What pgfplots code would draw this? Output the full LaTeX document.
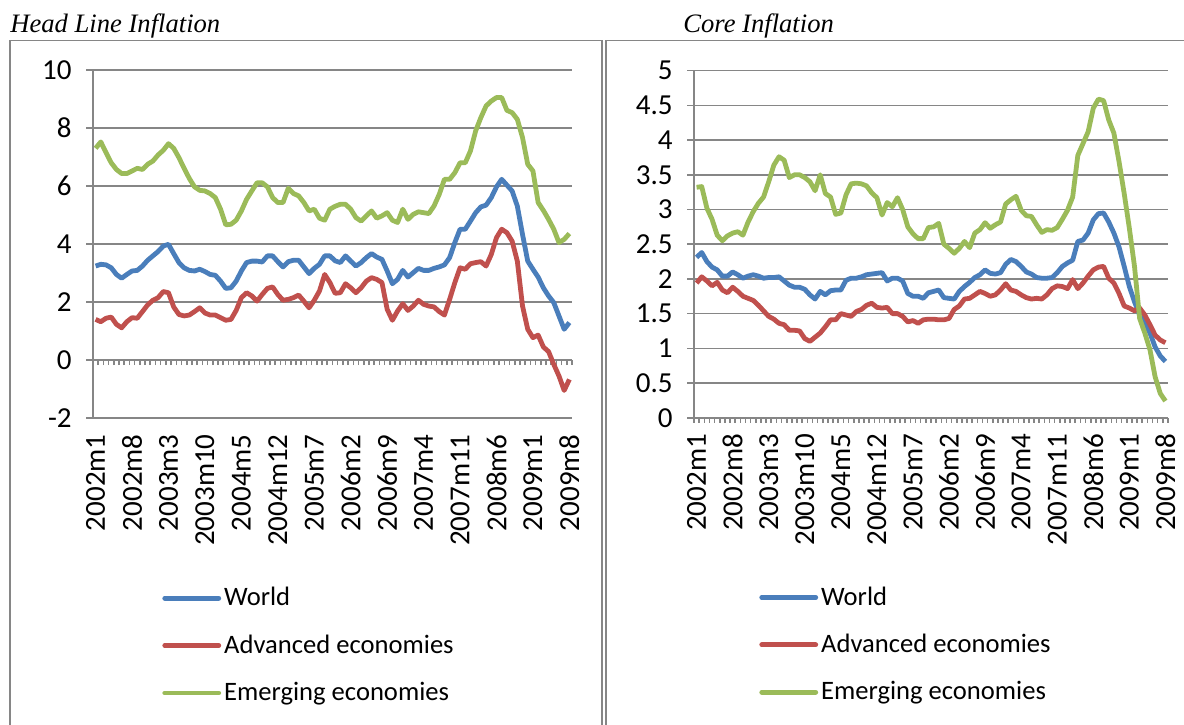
\documentclass[border=0pt]{standalone}
\usepackage{fontspec}
\setmainfont{Carlito}
\newfontfamily\titlefont{Liberation Serif}
\usepackage{pgfplots}
\usepackage{pgfplotstable}
\pgfplotsset{compat=1.18}

\definecolor{gridgray}{RGB}{134,134,134}
\definecolor{cworld}{RGB}{74,126,187}
\definecolor{cadv}{RGB}{192,80,77}
\definecolor{cemer}{RGB}{155,187,89}

% month index, world, advanced, emerging
\pgfplotstableread{
i w a e
0 3.24 1.40 7.30
1 3.30 1.32 7.52
2 3.28 1.44 7.15
3 3.18 1.48 6.80
4 2.95 1.23 6.57
5 2.82 1.11 6.43
6 2.95 1.32 6.43
7 3.07 1.46 6.52
8 3.09 1.44 6.61
9 3.24 1.67 6.57
10 3.44 1.90 6.75
11 3.59 2.06 6.86
12 3.74 2.15 7.07
13 3.93 2.36 7.23
14 3.99 2.32 7.46
15 3.67 1.83 7.30
16 3.36 1.57 6.98
17 3.18 1.52 6.61
18 3.09 1.55 6.26
19 3.07 1.67 5.97
20 3.13 1.80 5.85
21 3.05 1.62 5.83
22 2.95 1.55 5.74
23 2.92 1.55 5.60
24 2.72 1.46 5.20
25 2.47 1.37 4.66
26 2.49 1.40 4.68
27 2.72 1.71 4.82
28 3.07 2.15 5.14
29 3.36 2.32 5.54
30 3.41 2.21 5.83
31 3.41 2.03 6.11
32 3.38 2.26 6.11
33 3.59 2.47 5.97
34 3.59 2.52 5.60
35 3.39 2.26 5.43
36 3.21 2.06 5.43
37 3.39 2.09 5.92
38 3.44 2.15 5.74
39 3.44 2.24 5.66
40 3.21 2.03 5.43
41 2.98 1.80 5.14
42 3.16 2.06 5.20
43 3.30 2.38 4.89
44 3.59 2.95 4.82
45 3.59 2.67 5.20
46 3.42 2.30 5.30
47 3.36 2.32 5.37
48 3.59 2.63 5.37
49 3.41 2.49 5.20
50 3.24 2.32 4.91
51 3.36 2.49 4.79
52 3.53 2.72 4.97
53 3.67 2.84 5.14
54 3.55 2.78 4.89
55 3.47 2.67 4.97
56 3.07 1.75 5.08
57 2.63 1.37 4.82
58 2.78 1.69 4.74
59 3.09 1.94 5.20
60 2.86 1.71 4.85
61 3.01 1.86 5.02
62 3.16 2.06 5.11
63 3.09 1.92 5.08
64 3.09 1.86 5.05
65 3.16 1.83 5.31
66 3.21 1.67 5.71
67 3.28 1.55 6.23
68 3.53 2.09 6.23
69 4.05 2.67 6.46
70 4.51 3.18 6.80
71 4.51 3.13 6.80
72 4.79 3.32 7.21
73 5.08 3.36 7.90
74 5.28 3.39 8.36
75 5.34 3.24 8.76
76 5.60 3.64 8.93
77 5.97 4.22 9.05
78 6.23 4.51 9.05
79 6.03 4.39 8.61
80 5.83 4.10 8.53
81 5.31 3.41 8.30
82 4.33 1.86 7.67
83 3.41 1.06 6.75
84 3.13 0.77 6.52
85 2.86 0.86 5.43
86 2.49 0.45 5.16
87 2.21 0.29 4.85
88 1.98 -0.15 4.51
89 1.52 -0.55 4.05
90 1.06 -1.05 4.16
91 1.29 -0.67 4.36
}\headline

\pgfplotstableread{
i w a e
0 2.31 1.94 3.32
1 2.38 2.03 3.33
2 2.25 1.97 3.02
3 2.17 1.90 2.86
4 2.13 1.95 2.63
5 2.04 1.84 2.55
6 2.04 1.80 2.62
7 2.10 1.88 2.66
8 2.06 1.82 2.68
9 2.01 1.75 2.63
10 2.04 1.72 2.82
11 2.06 1.69 2.97
12 2.04 1.62 3.09
13 2.01 1.54 3.18
14 2.02 1.46 3.40
15 2.02 1.42 3.64
16 2.03 1.36 3.76
17 1.97 1.34 3.71
18 1.91 1.26 3.46
19 1.88 1.26 3.50
20 1.88 1.25 3.50
21 1.85 1.14 3.46
22 1.77 1.10 3.40
23 1.71 1.16 3.27
24 1.82 1.22 3.50
25 1.77 1.31 3.23
26 1.83 1.41 3.18
27 1.84 1.41 2.93
28 1.84 1.50 2.95
29 1.98 1.48 3.21
30 2.01 1.46 3.37
31 2.01 1.53 3.38
32 2.03 1.56 3.37
33 2.06 1.62 3.34
34 2.07 1.65 3.24
35 2.08 1.59 3.17
36 2.09 1.58 2.92
37 1.97 1.59 3.10
38 2.01 1.50 3.04
39 2.01 1.50 3.17
40 1.97 1.46 3.00
41 1.79 1.38 2.75
42 1.75 1.40 2.65
43 1.75 1.36 2.58
44 1.72 1.41 2.58
45 1.80 1.42 2.74
46 1.82 1.42 2.75
47 1.84 1.41 2.80
48 1.73 1.41 2.50
49 1.72 1.43 2.44
50 1.71 1.56 2.37
51 1.82 1.61 2.44
52 1.89 1.71 2.54
53 1.95 1.72 2.45
54 2.02 1.77 2.66
55 2.06 1.82 2.71
56 2.13 1.79 2.81
57 2.08 1.75 2.73
58 2.07 1.77 2.78
59 2.09 1.84 2.82
60 2.21 1.93 3.08
61 2.28 1.84 3.14
62 2.25 1.82 3.19
63 2.18 1.77 2.99
64 2.10 1.73 2.91
65 2.07 1.71 2.90
66 2.02 1.72 2.78
67 2.01 1.71 2.67
68 2.01 1.77 2.71
69 2.02 1.86 2.70
70 2.09 1.90 2.74
71 2.18 1.89 2.86
72 2.23 1.86 2.99
73 2.27 1.99 3.18
74 2.54 1.86 3.78
75 2.56 1.94 3.95
76 2.66 2.04 4.12
77 2.85 2.13 4.46
78 2.94 2.17 4.59
79 2.95 2.18 4.57
80 2.82 2.01 4.29
81 2.66 1.94 4.10
82 2.46 1.79 3.69
83 2.18 1.61 3.23
84 1.89 1.58 2.73
85 1.67 1.54 2.18
86 1.48 1.58 1.43
87 1.36 1.48 1.22
88 1.22 1.34 0.98
89 1.02 1.19 0.59
90 0.89 1.12 0.35
91 0.81 1.08 0.24
}\core

\pgfplotsset{
  infl/.style={
    scale only axis,
    axis x line=middle, axis y line=left,
    axis line style={-, draw=gridgray, line width=0.8pt},
    tick align=outside,
    xmin=-0.5, xmax=91.5,
    xtick={0,7,...,91},
    xticklabels={2002m1,2002m8,2003m3,2003m10,2004m5,2004m12,2005m7,2006m2,2006m9,2007m4,2007m11,2008m6,2009m1,2009m8},
    minor xtick={-0.5,0.5,...,91.5},
    major x tick style={draw=none},
    minor x tick style={draw=gridgray, line width=0.8pt},
    minor tick length=2.5pt,
    major tick length=3.5pt,
    ytick style={draw=gridgray, line width=0.8pt},
    hide obscured x ticks=false,
    ymajorgrids,
    grid style={draw=gridgray, line width=0.8pt},
    /pgf/number format/assume math mode=true,
    tick label style={font=\fontsize{14.5}{16}\selectfont, inner sep=0pt},
    yticklabel style={xshift=-7pt},
    xticklabel style={rotate=90, anchor=east},
    every axis plot/.append style={line width=2.4pt, line join=round, mark=none},
    legend cell align=left,
    legend image code/.code={\draw[##1, line cap=round] (0pt,0pt) -- (27pt,0pt);},
    legend style={draw=none, fill=none, anchor=north west, row sep=10pt,
      inner sep=0pt, font=\fontsize{13.3}{15}\selectfont,
      nodes={inner sep=1.5pt}},
  },
}

\begin{document}
\begin{tikzpicture}[x=0.5pt, y=0.5pt]
\clip (0,0) rectangle (1184,724);
\useasboundingbox (0,0) rectangle (1184,724);
\draw[gridgray, line width=0.8pt] (10,-10) rectangle (602,683.5);
\draw[gridgray, line width=0.8pt] (606,-10) rectangle (1200,683.5);
\node[anchor=base west, inner sep=0pt, font=\titlefont\itshape\fontsize{13.3}{16}\selectfont] at (10,691.5) {Head Line Inflation};
\node[anchor=base west, inner sep=0pt, font=\titlefont\itshape\fontsize{13.3}{16}\selectfont] at (683,691.5) {Core Inflation};

\begin{axis}[infl, at={(46.5pt,153pt)}, anchor=south west,
  width=239.5pt, height=174pt,
  ymin=-2, ymax=10, ytick={-2,0,...,10},
  xticklabel shift=33.5pt,
  legend style={at={(0.144,-0.477)}}]
\addplot[cworld] table[x=i, y=w]{\headline};
\addplot[cadv] table[x=i, y=a]{\headline};
\addplot[cemer] table[x=i, y=e]{\headline};
\legend{World, Advanced economies, Emerging economies}
\end{axis}

\begin{axis}[infl, at={(347pt,153.15pt)}, anchor=south west,
  width=237pt, height=173.5pt,
  ymin=0, ymax=5, ytick={0,0.5,...,5},
  xticklabel shift=4.5pt,
  legend style={at={(0.137,-0.477)}}]
\addplot[cworld] table[x=i, y=w]{\core};
\addplot[cadv] table[x=i, y=a]{\core};
\addplot[cemer] table[x=i, y=e]{\core};
\legend{World, Advanced economies, Emerging economies}
\end{axis}
\end{tikzpicture}
\end{document}
